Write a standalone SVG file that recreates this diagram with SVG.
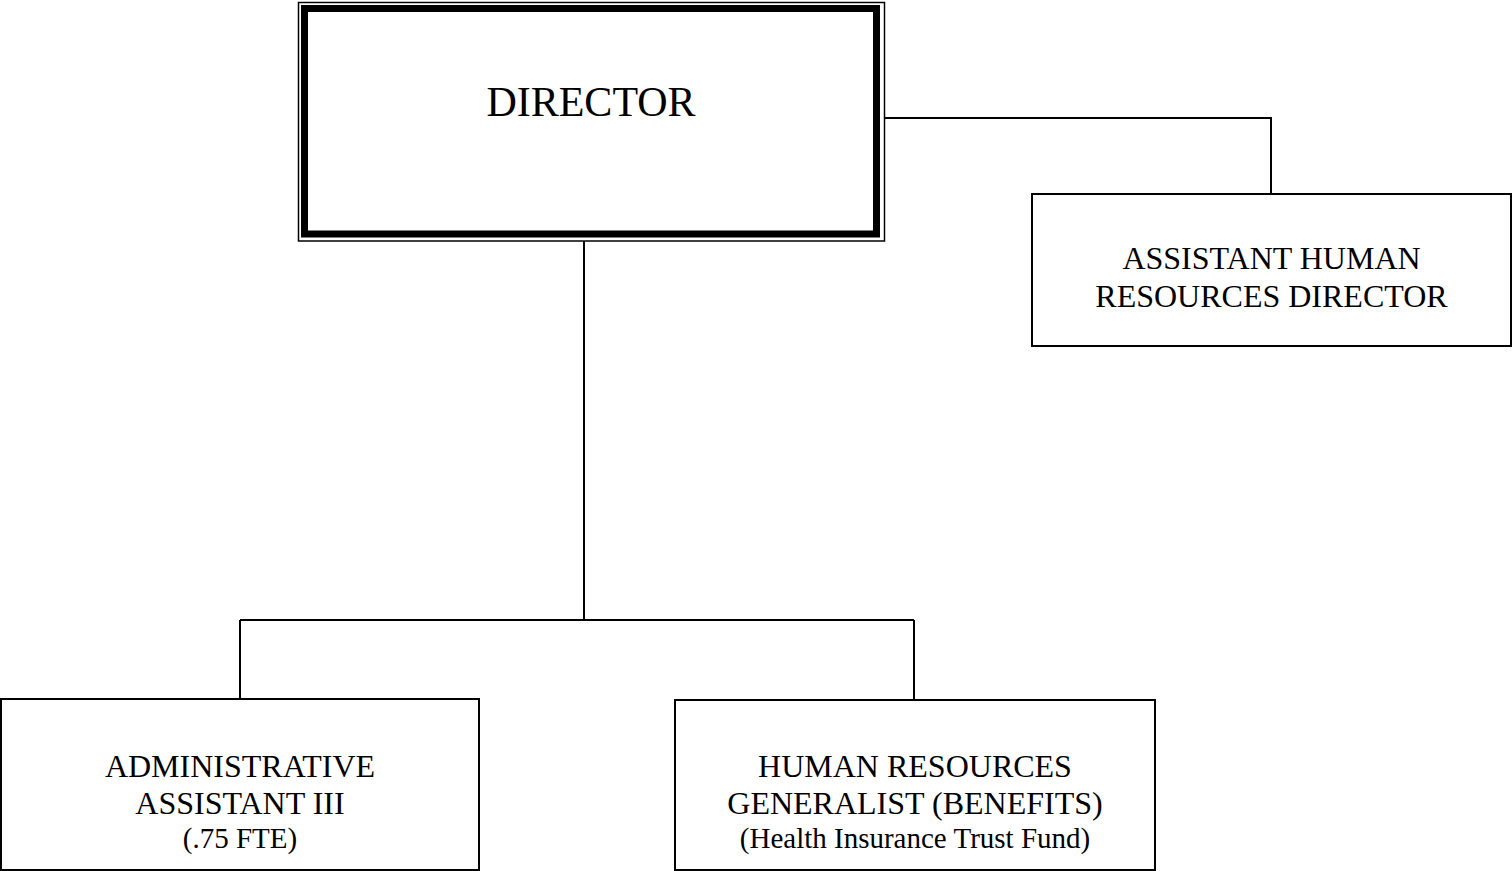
<svg xmlns="http://www.w3.org/2000/svg" width="1512" height="871" viewBox="0 0 1512 871">
<style>
.box{fill:#fff;stroke:#000;stroke-width:2}
.ln{fill:none;stroke:#000;stroke-width:2}
text{font-family:"Liberation Serif","Times New Roman",serif;fill:#000;text-anchor:middle}
.t{font-size:32px}
.s{font-size:29px}
.d{font-size:42px}
</style>
<rect width="1512" height="871" fill="#fff"/>
<g id="connectors">
<path class="ln" d="M880 118 H1271 V194"/>
<path class="ln" d="M584 241 V620"/>
<path class="ln" d="M240 620 H914"/>
<path class="ln" d="M240 620 V698"/>
<path class="ln" d="M914 620 V699"/>
</g>
<g id="director">
<rect x="298.5" y="2.5" width="586" height="238.5" fill="#fff" stroke="#000" stroke-width="1.5"/>
<rect x="304.5" y="8.5" width="572" height="225.5" fill="none" stroke="#000" stroke-width="7"/>
<text class="d" x="591" y="116">DIRECTOR</text>
</g>
<g id="assistant-hr-director">
<rect class="box" x="1032" y="194" width="479" height="152"/>
<text class="t" x="1271.5" y="269">ASSISTANT HUMAN</text>
<text class="t" x="1271.5" y="307">RESOURCES DIRECTOR</text>
</g>
<g id="admin-assistant">
<rect class="box" x="1" y="699" width="478" height="171"/>
<text class="t" x="240" y="777">ADMINISTRATIVE</text>
<text class="t" x="240" y="814">ASSISTANT III</text>
<text class="s" x="240" y="848">(.75 FTE)</text>
</g>
<g id="hr-generalist">
<rect class="box" x="675" y="700" width="480" height="170"/>
<text class="t" x="915" y="777">HUMAN RESOURCES</text>
<text class="t" x="915" y="814">GENERALIST (BENEFITS)</text>
<text class="s" x="915" y="848">(Health Insurance Trust Fund)</text>
</g>
</svg>
